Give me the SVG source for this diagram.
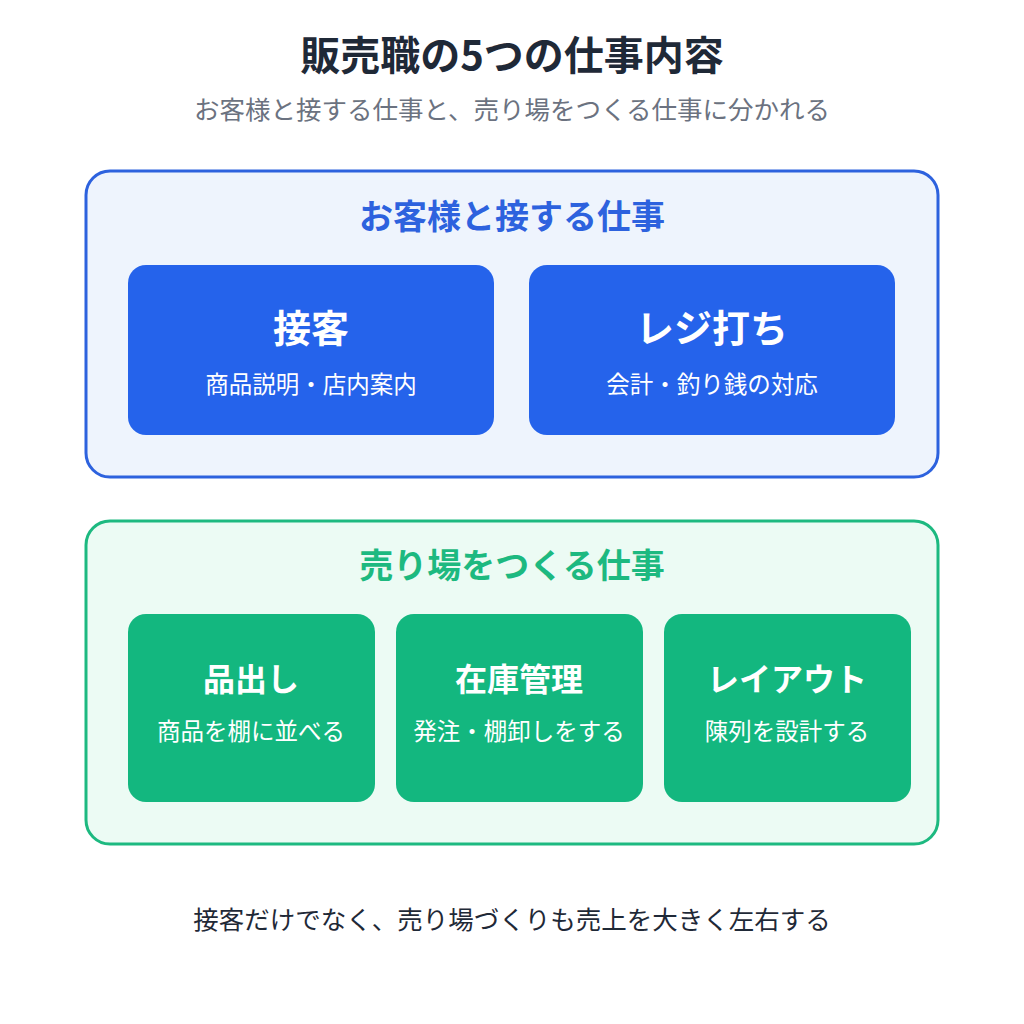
<svg xmlns="http://www.w3.org/2000/svg" width="1024" height="1024" viewBox="0 0 1024 1024">
<style>
text{font-family:"Noto Sans CJK JP","Noto Sans",sans-serif;text-anchor:middle}
.t{font-size:40px;font-weight:700;fill:#1f2937}
.s{font-size:25.5px;fill:#6b7280}
.h{font-size:34px;font-weight:700}
.bt{font-size:38px;font-weight:700;fill:#fff}
.gt{font-size:32px;font-weight:700;fill:#fff}
.bs{font-size:23.5px;fill:#fff}
.f{font-size:25.5px;fill:#1f2937}
</style>
<rect width="1024" height="1024" fill="#fff"/>
<text class="t" x="512" y="70">販売職の5つの仕事内容</text>
<text class="s" x="512" y="119">お客様と接する仕事と、売り場をつくる仕事に分かれる</text>
<g id="panel-customer">
<rect x="86" y="171" width="852" height="306" rx="24" fill="#eef4fd" stroke="#2d62de" stroke-width="3"/>
<text class="h" x="512" y="229" fill="#2d62de">お客様と接する仕事</text>
</g>
<g id="node-sekkyaku">
<rect x="128" y="265" width="366" height="170" rx="18" fill="#2563eb"/>
<text class="bt" x="311" y="342">接客</text>
<text class="bs" x="311" y="393">商品説明・店内案内</text>
</g>
<g id="node-reji">
<rect x="529" y="265" width="366" height="170" rx="18" fill="#2563eb"/>
<text class="bt" x="712" y="342">レジ打ち</text>
<text class="bs" x="712" y="393">会計・釣り銭の対応</text>
</g>
<g id="panel-floor">
<rect x="86" y="521" width="852" height="323" rx="24" fill="#ecfbf4" stroke="#1db980" stroke-width="3"/>
<text class="h" x="512" y="578" fill="#1db980">売り場をつくる仕事</text>
</g>
<g id="node-shinadashi">
<rect x="128" y="614" width="247" height="188" rx="18" fill="#13b77f"/>
<text class="gt" x="251" y="691">品出し</text>
<text class="bs" x="251" y="740">商品を棚に並べる</text>
</g>
<g id="node-zaiko">
<rect x="396" y="614" width="247" height="188" rx="18" fill="#13b77f"/>
<text class="gt" x="519" y="691">在庫管理</text>
<text class="bs" x="519" y="740">発注・棚卸しをする</text>
</g>
<g id="node-layout">
<rect x="664" y="614" width="247" height="188" rx="18" fill="#13b77f"/>
<text class="gt" x="787" y="691">レイアウト</text>
<text class="bs" x="787" y="740">陳列を設計する</text>
</g>
<g id="connectors"/>
<text class="f" x="512" y="929">接客だけでなく、売り場づくりも売上を大きく左右する</text>
</svg>
